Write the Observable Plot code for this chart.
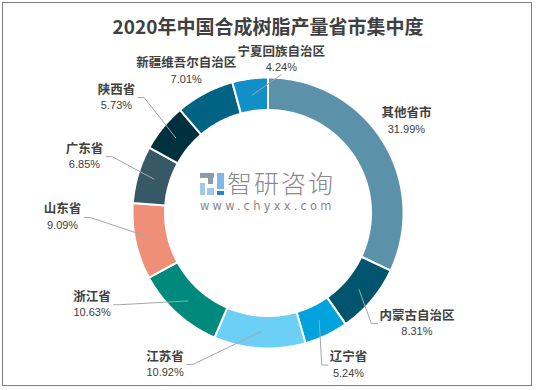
<!DOCTYPE html>
<html><head><meta charset="utf-8">
<script src="https://cdn.jsdelivr.net/npm/d3@7"></script>
<script src="https://cdn.jsdelivr.net/npm/@observablehq/plot@0.6"></script>
<style>
body{margin:0;background:#fff;}
#wrap{position:relative;width:536px;height:390px;overflow:hidden;font-family:"Noto Sans CJK SC","Noto Sans",sans-serif;background:#fff;}
#frame{position:absolute;left:2px;top:2px;width:528px;height:382px;border:1px solid #7f7f7f;pointer-events:none;}
#title{height:44px;line-height:51px;text-align:center;font-size:19px;font-weight:bold;color:#404040;white-space:nowrap;}
#wm{position:absolute;left:199px;top:170px;width:140px;height:48px;pointer-events:none;}
#wm .cn{position:absolute;left:28px;top:-6px;font-size:25px;color:#8a8a8a;letter-spacing:2px;font-weight:300;}
#wm .url{position:absolute;left:1px;top:29px;font-family:"DejaVu Sans",sans-serif;font-size:11.5px;color:#8a8a8a;letter-spacing:3.2px;}
#wm .i{position:absolute;}
</style></head>
<body>
<div id="wrap">
  <div id="title">2020年中国合成树脂产量省市集中度</div>
  <div id="chart"></div>
  <div id="wm">
    <div class="i" style="left:1px;top:3px;width:14px;height:5px;background:#8c9aaa"></div>
    <div class="i" style="left:9px;top:8px;width:5px;height:6px;background:#8c9aaa"></div>
    <div class="i" style="left:1px;top:13px;width:5px;height:12px;background:#9fc9ea"></div>
    <div class="i" style="left:8px;top:18px;width:7px;height:7px;background:#9fc9ea"></div>
    <div class="i" style="left:18px;top:3px;width:7px;height:16px;background:#7fb8e6"></div>
    <div class="i" style="left:18px;top:21px;width:7px;height:4px;background:#2f7fd0"></div>
    <span class="cn">智研咨询</span>
    <span class="url">www.chyxx.com</span>
  </div>
  <div id="frame"></div>
</div>
<script>
// ---- data ----
const names = ["其他省市","内蒙古自治区","辽宁省","江苏省","浙江省","山东省","广东省","陕西省","新疆维吾尔自治区","宁夏回族自治区"];
const shares = [31.99, 8.31, 5.24, 10.92, 10.63, 9.09, 6.85, 5.73, 7.01, 4.24];
const colors = ["#5b91a9","#00546e","#00a3db","#6ccff6","#00897d","#ef8f78","#375866","#002f3e","#006384","#1190c8"];
// ---- label placement (hand-placed in original; polar tweaks relative to slice mid-angle) ----
const labelAngleShift = [-1.1, -3.5, -2.4, 30.6, 20.1, 10.9, 0.5, -1.9, -2.1, 12.6];
const labelRadius = [166, 185.5, 172, 183.2, 198.4, 205.5, 192, 190.5, 163.7, 154];
const showLeader = [false, true, true, true, true, true, true, true, false, true];

const W = 536, TOP = 44, H = 390 - TOP;
const cx = 267.5, cy = 212.5, rOut = 135.5, rIn = 103, rLead = 119;
const pt = (a, r) => [cx + r * Math.sin(a), cy - r * Math.cos(a)];
const total = d3.sum(shares);
let acc = 0;
const slices = names.map((n, i) => {
  const a0 = acc / total * 2 * Math.PI; acc += shares[i];
  const a1 = acc / total * 2 * Math.PI;
  return {name: n, value: shares[i], a0, a1, mid: (a0 + a1) / 2};
});
const ring = [];
for (const s of slices) {
  const n = Math.max(2, Math.ceil((s.a1 - s.a0) / (Math.PI / 360)));
  for (let k = 0; k <= n; k++) { const [x, y] = pt(s.a0 + (s.a1 - s.a0) * k / n, rOut); ring.push({name: s.name, x, y}); }
  for (let k = n; k >= 0; k--) { const [x, y] = pt(s.a0 + (s.a1 - s.a0) * k / n, rIn); ring.push({name: s.name, x, y}); }
}
const fmt = d3.format(".2f");
const labels = slices.map((s, i) => {
  const [x, y] = pt(s.mid + labelAngleShift[i] * Math.PI / 180, labelRadius[i]);
  const pct = fmt(s.value) + "%";
  const w = Math.max(s.name.length * 12.5, pct.length * 6.2);
  return {name: s.name, pct, x, y, w, yName: y - 8, yPct: y + 8};
});
const leaders = [];
labels.forEach((L, i) => {
  if (!showLeader[i]) return;
  const [tx, ty] = pt(slices[i].mid, rLead);
  const left = L.x - L.w / 2, right = L.x + L.w / 2;
  let pts;
  if (right < tx) pts = [[right + 3, L.y], [right + 9, L.y], [tx, ty]];
  else if (left > tx) pts = [[left - 2, L.y], [left - 8, L.y], [tx, ty]];
  else pts = [[L.x, ty > L.y ? L.y + 15 : L.y - 15], [tx, ty]];
  pts.forEach(([x, y]) => leaders.push({name: L.name, x, y}));
});

const chart = Plot.plot({
  width: W, height: H, margin: 0,
  style: {background: "transparent", overflow: "visible"},
  x: {domain: [0, W], range: [0, W], axis: null},
  y: {domain: [TOP, 390], range: [0, H], axis: null},
  color: {domain: names, range: colors},
  marks: [
    Plot.line(ring, {x: "x", y: "y", z: "name", fill: "name", stroke: "white", strokeWidth: 2, curve: "linear-closed"}),
    Plot.line(leaders, {x: "x", y: "y", z: "name", stroke: "#a6a6a6", strokeWidth: 1}),
    Plot.text(labels, {x: "x", y: "yName", text: "name", fontSize: 12.5, fontWeight: "bold", fill: "#404040", fontFamily: "Noto Sans CJK SC, sans-serif"}),
    Plot.text(labels, {x: "x", y: "yPct", text: "pct", fontSize: 11, fill: "#404040", fontFamily: "Liberation Sans, Arial, sans-serif"})
  ]
});
document.getElementById("chart").appendChild(chart);
</script>
</body></html>
